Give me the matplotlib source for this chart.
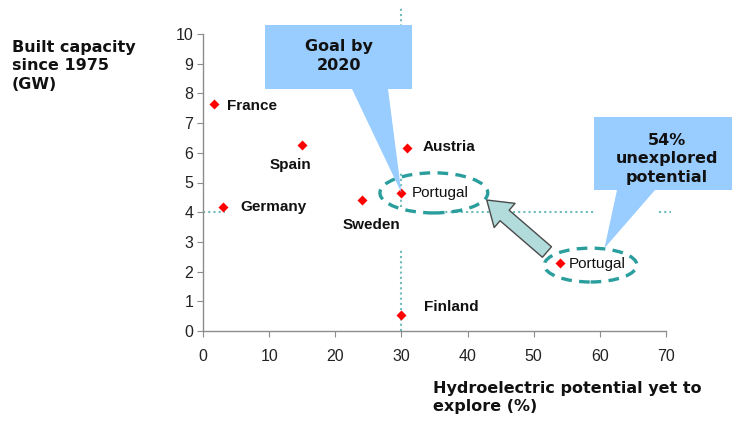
import matplotlib
matplotlib.use("Agg")
import matplotlib.pyplot as plt
from matplotlib.patches import Ellipse, Polygon

# ---- data ----
countries = ["France", "Spain", "Austria", "Portugal", "Germany", "Sweden", "Finland", "Portugal"]
potential = [1.7, 15.0, 30.8, 30.0, 3.0, 24.0, 30.0, 54.0]     # % yet to explore
capacity = [7.65, 6.25, 6.15, 4.65, 4.18, 4.4, 0.55, 2.3]      # GW since 1975
bold_label = [True, True, True, False, True, True, True, False]
x_ticks = [0, 10, 20, 30, 40, 50, 60, 70]
y_ticks = list(range(0, 11))
ref_x = 30
ref_y = 4

# label offsets in pixels (dx, dy) and horizontal alignment
label_off = [(13, -2, "left"), (-12, -20, "center"), (16, 1, "left"), (10, 0, "left"),
             (18, 0, "left"), (10, -25, "center"), (23, 8, "left"), (9, -1, "left")]

W, H = 732, 421
fig = plt.figure(figsize=(W / 100, H / 100), dpi=100)
ax = fig.add_axes([203 / W, 1 - 331 / H, (666 - 203) / W, (331 - 34) / H])
ax.set_xlim(0, 70)
ax.set_ylim(0, 10)
ax.patch.set_alpha(0)

for s in ["top", "right"]:
    ax.spines[s].set_visible(False)
for s in ["left", "bottom"]:
    ax.spines[s].set_color("#8c8c8c")
    ax.spines[s].set_linewidth(1.0)
ax.set_xticks(x_ticks)
ax.set_yticks(y_ticks)
ax.tick_params(axis="both", direction="out", length=4, color="#8c8c8c",
               labelsize=11.5, labelcolor="#222222")
ax.tick_params(axis="x", pad=9)
ax.tick_params(axis="y", pad=3)
for lab in ax.get_xticklabels() + ax.get_yticklabels():
    lab.set_fontfamily("Liberation Sans")

# dotted reference lines (visible segments)
dot_kw = dict(color="#6fbcbc", lw=1.5, ls=(0, (1, 1.5)), clip_on=False, zorder=1)
for y0, y1 in [(0, 2.8), (4.17, 5.32), (8.15, 10.95)]:
    ax.plot([ref_x, ref_x], [y0, y1], **dot_kw)
for x0, x1 in [(0, 3.3), (35.8, 59.2), (69.0, 70.8)]:
    ax.plot([x0, x1], [ref_y, ref_y], **dot_kw)

# points
ax.scatter(potential, capacity, marker="D", s=26, color="#ff0000", zorder=5, linewidths=0)

for c, x, y, b, (dx, dy, ha) in zip(countries, potential, capacity, bold_label, label_off):
    ax.annotate(c, (x, y), xytext=(dx, dy), textcoords="offset pixels",
                ha=ha, va="center", fontsize=11, family="Liberation Sans",
                fontweight="bold" if b else "normal", color="#111111", zorder=6)

# dashed ellipses
ell_kw = dict(fill=False, ec="#2a9d9d", lw=2.4, ls=(0, (3.2, 2.2)), zorder=4, clip_on=False)
ax.add_patch(Ellipse((34.9, 4.65), 16.3, 1.35, **ell_kw))
ax.add_patch(Ellipse((58.6, 2.22), 14.0, 1.14, **ell_kw))

# block arrow
ax.annotate("", xy=(42.9, 4.41), xytext=(52.0, 2.66),
            arrowprops=dict(arrowstyle="simple,head_width=1.15,head_length=0.85,tail_width=0.5",
                            mutation_scale=20, fc="#b2dcdc", ec="#4a4a4a", lw=1.0,
                            shrinkA=0, shrinkB=0), zorder=4)

# callouts
def px(x, y):
    return (x / W, 1 - y / H)

def tip_fig(x, y):
    d = ax.transData.transform((x, y))
    return tuple(fig.transFigure.inverted().transform(d))

call_col = "#99ccff"
p1 = [px(265, 25), px(412, 25), px(412, 89), px(388, 89), tip_fig(potential[3], capacity[3]),
      px(352, 89), px(265, 89)]
fig.patches.append(Polygon(p1, closed=True, fc=call_col, ec="none", transform=fig.transFigure,
                           figure=fig, zorder=3))
p2 = [px(594, 117), px(732, 117), px(732, 190), px(655, 190), tip_fig(60.7, 2.79),
      px(617, 190), px(594, 190)]
fig.patches.append(Polygon(p2, closed=True, fc=call_col, ec="none", transform=fig.transFigure,
                           figure=fig, zorder=3))

fig.text(*px(339, 56), "Goal by\n2020", ha="center", va="center", fontsize=11.5,
         fontweight="bold", family="DejaVu Sans", linespacing=1.3, color="#111111")
fig.text(*px(667, 159), "54%\nunexplored\npotential", ha="center", va="center", fontsize=11.5,
         fontweight="bold", family="DejaVu Sans", linespacing=1.3, color="#111111")

# axis titles
fig.text(*px(12, 66), "Built capacity\nsince 1975\n(GW)", ha="left", va="center",
         fontsize=11.5, fontweight="bold", family="DejaVu Sans", linespacing=1.32, color="#111111")
fig.text(*px(433, 381), "Hydroelectric potential yet to\nexplore (%)", ha="left", va="top",
         fontsize=11.5, fontweight="bold", family="DejaVu Sans", linespacing=1.28, color="#111111")

fig.savefig("out.png", dpi=100)
